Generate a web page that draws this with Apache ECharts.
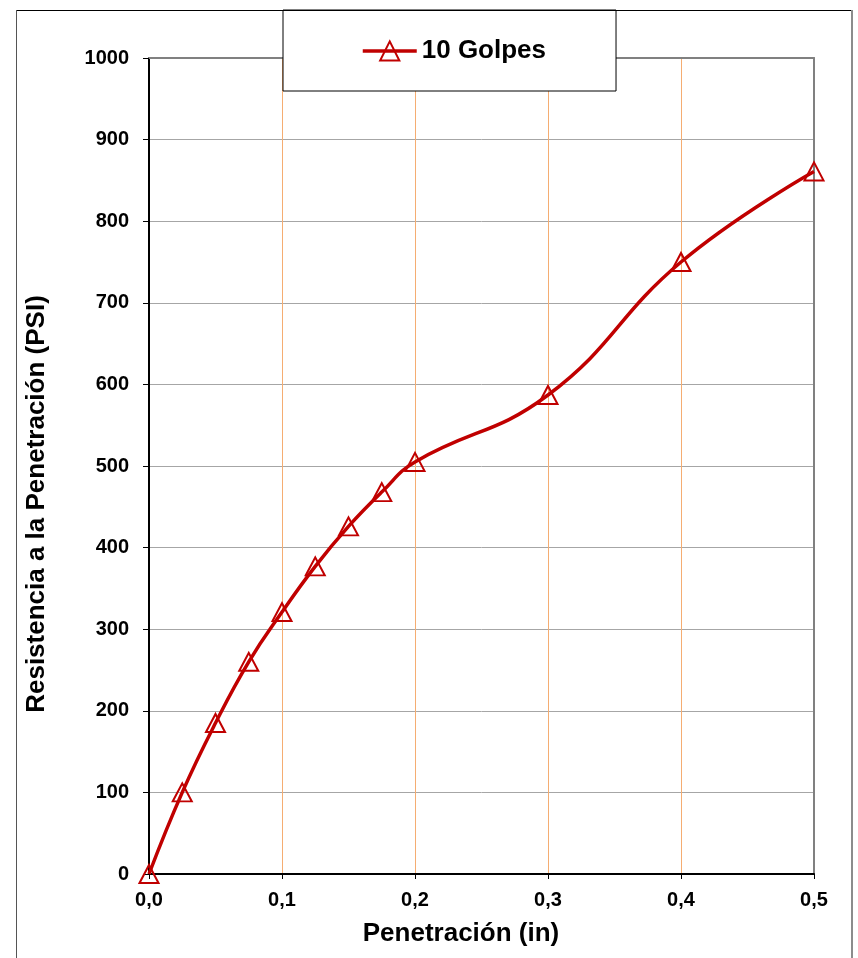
<!DOCTYPE html>
<html>
<head>
<meta charset="utf-8">
<script src="https://cdn.jsdelivr.net/npm/echarts@6/dist/echarts.min.js"></script>
<style>
  html, body { margin: 0; padding: 0; background: #ffffff; }
  #chart { width: 858px; height: 958px; }
</style>
</head>
<body>
<div id="chart"></div>
<script>
// Penetration test readings (CBR, 10 blows)
const penetration = [0, 0.025, 0.05, 0.075, 0.1, 0.125, 0.15, 0.175, 0.2, 0.3, 0.4, 0.5];
const resistance  = [0, 100, 185, 260, 321, 377, 426, 468, 505, 587, 750, 861];
const seriesName = '10 Golpes';
const xTitle = 'Penetración (in)';
const yTitle = 'Resistencia a la Penetración (PSI)';

const FONT = "'Liberation Sans', Arial, sans-serif";
const RED = '#c00000';

const chart = echarts.init(document.getElementById('chart'), null, { renderer: 'canvas' });

const points = penetration.map((x, i) => [x, resistance[i]]);
const commaDecimal = v => v.toFixed(1).replace('.', ',');
const plainInt = v => String(Math.round(v));

chart.setOption({
  animation: false,
  backgroundColor: '#ffffff',
  grid: { left: 149, right: 44, top: 58, bottom: 84, containLabel: false },
  xAxis: [
    {
      type: 'value', min: 0, max: 0.5, interval: 0.1, position: 'bottom',
      axisLine: { onZero: false, lineStyle: { color: '#000000', width: 2 } },
      axisTick: { show: true, length: 5, lineStyle: { color: '#000000', width: 1 } },
      axisLabel: { margin: 16, formatter: commaDecimal, color: '#000000',
                   fontFamily: FONT, fontWeight: 'bold', fontSize: 20 },
      splitLine: { show: true, lineStyle: { color: '#f5ad72', width: 1 } }
    },
    {
      type: 'value', min: 0, max: 0.5, position: 'top',
      axisLine: { onZero: false, lineStyle: { color: '#808080', width: 2 } },
      axisTick: { show: false }, axisLabel: { show: false }, splitLine: { show: false }
    }
  ],
  yAxis: [
    {
      type: 'value', min: 0, max: 1000, interval: 100, position: 'left',
      axisLine: { show: true, onZero: false, lineStyle: { color: '#000000', width: 2 } },
      axisTick: { show: true, length: 6, lineStyle: { color: '#000000', width: 1 } },
      axisLabel: { margin: 20, formatter: plainInt, color: '#000000',
                   fontFamily: FONT, fontWeight: 'bold', fontSize: 20 },
      splitLine: { show: true, lineStyle: { color: '#a6a6a6', width: 1 } }
    },
    {
      type: 'value', min: 0, max: 1000, position: 'right',
      axisLine: { show: true, onZero: false, lineStyle: { color: '#808080', width: 2 } },
      axisTick: { show: false }, axisLabel: { show: false }, splitLine: { show: false }
    }
  ],
  legend: {
    left: 283, top: 10,
    padding: [28, 70, 27, 78],
    backgroundColor: '#ffffff',
    borderColor: '#000000', borderWidth: 1, borderRadius: 0,
    itemWidth: 54, itemHeight: 24, itemGap: 5,
    lineStyle: { width: 3.5 },
    textStyle: { color: '#000000', fontFamily: FONT, fontWeight: 'bold', fontSize: 26 },
    data: [seriesName]
  },
  series: [
    {
      name: seriesName,
      type: 'line',
      data: points,
      smooth: 0.45,
      symbol: 'triangle',
      symbolSize: [19, 18],
      showSymbol: true,
      lineStyle: { color: RED, width: 3.5 },
      itemStyle: { color: 'rgba(255,255,255,0)', borderColor: RED, borderWidth: 2 },
      emphasis: { disabled: true },
      z: 5
    }
  ],
  graphic: [
    // outer chart frame
    { type: 'line', shape: { x1: 16, y1: 10.5, x2: 852, y2: 10.5 }, style: { stroke: '#000000', lineWidth: 1 }, z: 100 },
    { type: 'line', shape: { x1: 16.5, y1: 10, x2: 16.5, y2: 958 }, style: { stroke: '#555555', lineWidth: 1 }, z: 100 },
    { type: 'line', shape: { x1: 852, y1: 10, x2: 852, y2: 958 }, style: { stroke: '#8c8c8c', lineWidth: 2 }, z: 100 },
    // axis titles
    {
      type: 'text', x: 37, y: 504, rotation: Math.PI / 2,
      style: { text: yTitle, fill: '#000000', font: 'bold 26px ' + FONT, align: 'center', verticalAlign: 'middle' },
      z: 100
    },
    {
      type: 'text', x: 461, y: 934,
      style: { text: xTitle, fill: '#000000', font: 'bold 26px ' + FONT, align: 'center', verticalAlign: 'middle' },
      z: 100
    }
  ]
});
</script>
</body>
</html>
